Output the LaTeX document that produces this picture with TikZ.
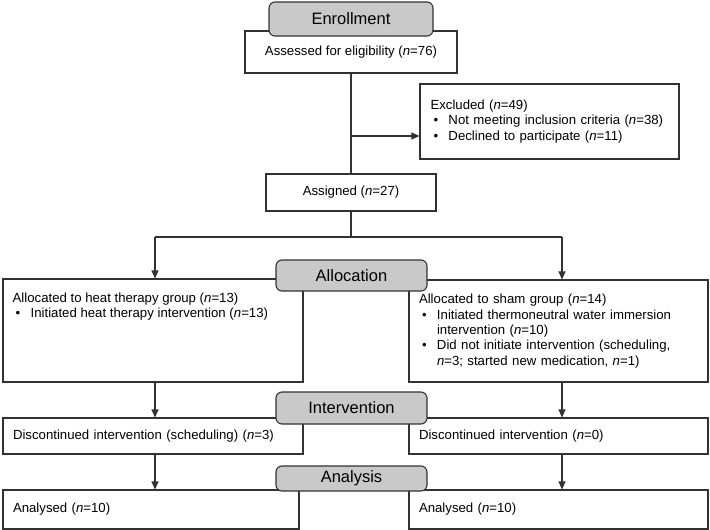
\documentclass[tikz,border=0pt]{standalone}
\usepackage{fontspec}
\setmainfont{Liberation Sans}
\usepackage{tikz}
\usetikzlibrary{arrows.meta}
\definecolor{hdgray}{RGB}{201,201,201}
\definecolor{edge}{RGB}{50,50,50}
\tikzset{
  box/.style={draw=edge, line width=1.1pt, fill=white, inner sep=0pt, align=left,
    font=\fontsize{13.2}{15.3}\selectfont},
  hdr/.style={draw=edge, line width=1.1pt, fill=hdgray, rounded corners=6pt, inner sep=0pt,
    minimum width=151pt, font=\fontsize{16.5}{18}\selectfont},
  txt/.style={inner sep=0pt, align=left, font=\fontsize{13.2}{15.3}\selectfont},
  ln/.style={draw=edge, line width=1.1pt},
  arr/.style={draw=edge, line width=1.1pt, -{Triangle[length=8pt,width=7pt]}}
}
\newcommand{\bul}{\makebox[18pt][l]{\hspace{3pt}\textbullet}}
\newcommand{\nval}{\textit{n}}

\begin{document}
\begin{tikzpicture}[x=1pt,y=-1pt]
\useasboundingbox (0,0) rectangle (710,530);

% enrollment
\node[box, minimum width=212pt, minimum height=42pt] (assess) at (351,52) {Assessed for eligibility (\nval=76)};
\node[hdr, minimum width=164pt, minimum height=34pt] (enroll) at (351,19) {Enrollment};
\node[box, minimum width=259pt, minimum height=75pt, text width=238pt] (excl) at (549.5,121.5)
  {Excluded (\nval=49)\\
   \bul Not meeting inclusion criteria (\nval=38)\\
   \bul Declined to participate (\nval=11)};
\node[box, minimum width=170pt, minimum height=37pt] (assign) at (351,192.5) {Assigned (\nval=27)};

% allocation
\node[box, minimum width=300pt, minimum height=103pt] (heat) at (153,330.5) {};
\node[txt, anchor=north west] (heattxt) at ([shift={(10,14)}]heat.north west)
  {Allocated to heat therapy group (\nval=13)\\
   \bul Initiated heat therapy intervention (\nval=13)};
\node[box, minimum width=299pt, minimum height=102pt, text width=279pt] (sham) at (558.5,331)
  {Allocated to sham group (\nval=14)\\
   \bul Initiated thermoneutral water immersion\\
   \hspace*{18pt}intervention (\nval=10)\\
   \bul Did not initiate intervention (scheduling,\\
   \hspace*{18pt}\nval=3; started new medication, \nval=1)};
\node[hdr, minimum height=31pt] (alloc) at (351.5,275.5) {Allocation};

% intervention
\node[box, minimum width=300pt, minimum height=36pt, text width=280pt] (discl) at (153,436)
  {Discontinued intervention (scheduling) (\nval=3)};
\node[box, minimum width=299pt, minimum height=36pt, text width=279pt] (discr) at (558.5,436)
  {Discontinued intervention (\nval=0)};
\node[hdr, minimum height=32pt] (interv) at (351.5,408) {Intervention};

% analysis
\node[box, minimum width=296pt, minimum height=39pt, text width=276pt] (anll) at (151,509.5)
  {Analysed (\nval=10)};
\node[box, minimum width=299pt, minimum height=39pt, text width=279pt] (anlr) at (558.5,509.5)
  {Analysed (\nval=10)};
\node[hdr, minimum height=25pt] (analys) at (351.5,478.5) {Analysis};

% connectors
\draw[ln] (assess.south) -- (assign.north);
\coordinate (tap) at (351,136);
\draw[arr] (tap) -- (tap -| excl.west);
\coordinate (split) at (351,237);
\coordinate (sl) at (155,237);
\coordinate (sr) at (562,237);
\draw[ln] (assign.south) -- (split);
\draw[ln] (sl) -- (sr);
\draw[arr] (sl) -- (sl |- heat.north);
\draw[arr] (sr) -- (sr |- sham.north);
\foreach \a/\b in {heat/discl, discl/anll}{
\draw[arr] (sl |- \a.south) -- (sl |- \b.north);
}
\foreach \a/\b in {sham/discr, discr/anlr}{
\draw[arr] (sr |- \a.south) -- (sr |- \b.north);
}
\end{tikzpicture}
\end{document}
